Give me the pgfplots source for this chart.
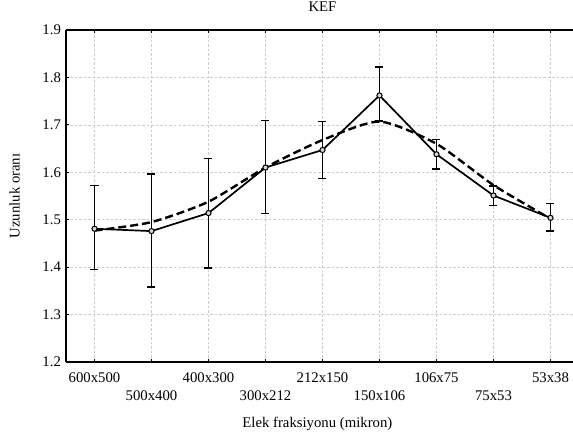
\documentclass[border=0pt]{standalone}
\usepackage{fontspec}
\setmainfont{Liberation Serif}
\usepackage{pgfplots}
\pgfplotsset{compat=1.18}
\usepackage{pgfplotstable}
\pgfplotstableread{
x y ep em
0 1.481 0.091 0.086
1 1.476 0.121 0.118
2 1.514 0.115 0.116
3 1.610 0.099 0.097
4 1.647 0.060 0.060
5 1.762 0.060 0.054
6 1.638 0.031 0.031
7 1.551 0.020 0.021
8 1.504 0.030 0.028
}\datatable
\pgfplotstableread{
x y
0 1.477
1 1.495
2 1.538
3 1.610
4 1.668
5 1.707
6 1.660
7 1.573
8 1.502
}\fittable
\begin{document}
\fontsize{14.8}{17.8}\selectfont
\begin{tikzpicture}
\begin{axis}[
  scale only axis,
  width=513bp, height=332bp,
  xmin=-0.5, xmax=8.5,
  ymin=1.2, ymax=1.9,
  axis x line*=box,
  axis y line*=left,
  axis line style={line width=2bp},
  xtick={0,2,4,6,8},
  xticklabels={600x500,400x300,212x150,106x75,53x38},
  extra x ticks={1,3,5,7},
  extra x tick labels={500x400,300x212,150x106,75x53},
  extra x tick style={grid=major, xticklabel style={yshift=-17.8bp}},
  xticklabel style={yshift=-6bp},
  xtick pos=both,
  ytick={1.2,1.3,...,1.9},
  ytick pos=left,
  tick align=inside,
  major tick length=3bp,
  tick style={line width=1.2bp, black},
  grid=major,
  grid style={dash pattern=on 2.5bp off 2bp, gray!40, line width=0.6bp},
  /pgf/number format/assume math mode=true,
  yticklabel={\pgfmathprintnumber[fixed,fixed zerofill,precision=1]{\tick}},
  tick label style={font=\fontsize{14.8}{17.8}\selectfont},
  label style={font=\fontsize{14.8}{17.8}\selectfont},
  title style={font=\fontsize{14.8}{17.8}\selectfont},
  title={KEF},
  title style={at={(axis description cs:0.5,1.0512)}, anchor=center},
  xlabel={Elek fraksiyonu (mikron)},
  xlabel style={at={(axis description cs:0.49,-0.1867)}, anchor=center},
  ylabel={Uzunluk oranı},
  ylabel style={at={(axis description cs:-0.1004,0.5)}, anchor=center},
]
\addplot[black, line width=2.4bp, dash pattern=on 8bp off 4bp, smooth, tension=0.4] table[x=x,y=y] {\fittable};
\addplot[black, line width=1.7bp, mark=*, mark size=2.6bp,
  mark options={fill=gray!35, draw=black, line width=1bp, solid},
  error bars/.cd, y dir=both, y explicit,
  error bar style={line width=1.7bp, black},
  error mark options={rotate=90, mark size=4bp, line width=1.7bp}]
  table[x=x, y=y, y error plus=ep, y error minus=em] {\datatable};
\end{axis}
\pgfresetboundingbox
\path (-66bp,-74bp) rectangle (507bp,362bp);
\end{tikzpicture}
\end{document}
